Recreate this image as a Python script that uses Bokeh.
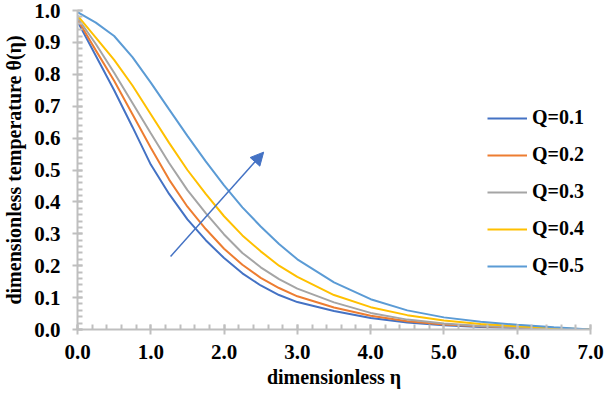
from bokeh.plotting import figure
from bokeh.models import (Range1d, SingleIntervalTicker, PrintfTickFormatter,
                          Legend, LegendItem, Arrow, NormalHead)
from bokeh.embed import file_html
from bokeh.resources import INLINE

# ---- data ----
eta = [0.0, 0.25, 0.5, 0.75, 1.0, 1.25, 1.5, 1.75, 2.0, 2.25, 2.5, 2.75,
       3.0, 3.5, 4.0, 4.5, 5.0, 5.5, 6.0, 6.5, 7.0]
theta_q01 = [0.966, 0.858, 0.750, 0.635, 0.517, 0.425, 0.345, 0.280, 0.224, 0.176,
             0.138, 0.108, 0.086, 0.058, 0.036, 0.022, 0.013, 0.008, 0.005, 0.002, 0.0]
theta_q02 = [0.972, 0.875, 0.780, 0.675, 0.570, 0.470, 0.385, 0.315, 0.253, 0.203,
             0.162, 0.130, 0.104, 0.069, 0.043, 0.026, 0.016, 0.010, 0.006, 0.003, 0.0]
theta_q03 = [0.977, 0.895, 0.805, 0.710, 0.615, 0.522, 0.437, 0.365, 0.298, 0.240,
             0.195, 0.158, 0.128, 0.085, 0.052, 0.031, 0.019, 0.011, 0.007, 0.003, 0.0]
theta_q04 = [0.984, 0.915, 0.845, 0.765, 0.675, 0.585, 0.500, 0.425, 0.355, 0.295,
             0.245, 0.200, 0.165, 0.108, 0.070, 0.045, 0.028, 0.017, 0.010, 0.005, 0.0]
theta_q05 = [0.995, 0.962, 0.920, 0.854, 0.774, 0.690, 0.607, 0.527, 0.452, 0.383,
             0.323, 0.268, 0.220, 0.148, 0.095, 0.060, 0.038, 0.024, 0.015, 0.007, 0.0]
series_labels = ["Q=0.1", "Q=0.2", "Q=0.3", "Q=0.4", "Q=0.5"]
series_colors = ["#4472C4", "#ED7D31", "#A5A5A5", "#FFC000", "#5B9BD5"]
arrow_start = (1.27, 0.229)
arrow_end = (2.54, 0.556)

FONT = "Liberation Serif"

p = figure(width=605, height=393, output_backend="svg", toolbar_location=None,
           x_range=Range1d(0, 7), y_range=Range1d(0, 1),
           min_border_left=75, min_border_right=15, min_border_top=10,
           min_border_bottom=64, margin=0)
p.outline_line_color = None
p.xgrid.visible = False
p.ygrid.visible = False
p.background_fill_color = "white"
p.border_fill_color = "white"

p.xaxis.ticker = SingleIntervalTicker(interval=1, num_minor_ticks=5)
p.yaxis.ticker = SingleIntervalTicker(interval=0.1, num_minor_ticks=5)
p.xaxis.formatter = PrintfTickFormatter(format="%.1f")
p.yaxis.formatter = PrintfTickFormatter(format="%.1f")

for ax in (p.xaxis, p.yaxis):
    ax.axis_line_color = "#BFBFBF"
    ax.axis_line_width = 2
    ax.major_tick_line_color = "#BFBFBF"
    ax.major_tick_line_width = 2
    ax.minor_tick_line_color = "#BFBFBF"
    ax.minor_tick_line_width = 2
    ax.major_tick_in = 5
    ax.major_tick_out = 5
    ax.minor_tick_in = 5
    ax.minor_tick_out = 0
    ax.major_label_text_font = FONT
    ax.major_label_text_font_style = "bold"
    ax.major_label_text_font_size = "21px"
    ax.major_label_text_color = "black"
    ax.axis_label_text_font = FONT
    ax.axis_label_text_font_style = "bold"
    ax.axis_label_text_font_size = "20px"
    ax.axis_label_text_color = "black"

p.xaxis.axis_label = "dimensionless η"
p.yaxis.axis_label = "dimensionless temperature θ(η)"
p.xaxis.major_label_standoff = 10
p.yaxis.major_label_standoff = 12
p.xaxis.axis_label_standoff = 4
p.yaxis.axis_label_standoff = 6

series = [theta_q01, theta_q02, theta_q03, theta_q04, theta_q05]
items = []
for ys, lab, col in zip(series, series_labels, series_colors):
    r = p.line(eta, ys, line_color=col, line_width=2)
    items.append(LegendItem(label=lab, renderers=[r]))

p.add_layout(Arrow(end=NormalHead(size=13, fill_color="#4472C4", line_color="#4472C4"),
                   x_start=arrow_start[0], y_start=arrow_start[1],
                   x_end=arrow_end[0], y_end=arrow_end[1],
                   line_color="#4472C4", line_width=1.5))

legend = Legend(items=items, location=(410, 52), border_line_color=None,
                background_fill_alpha=0, padding=0, margin=0, spacing=14,
                glyph_width=40, glyph_height=20, label_standoff=5,
                label_text_font=FONT, label_text_font_style="bold",
                label_text_font_size="20px", label_text_color="black")
p.add_layout(legend)

open("out.html", "w").write(file_html(p, INLINE))
